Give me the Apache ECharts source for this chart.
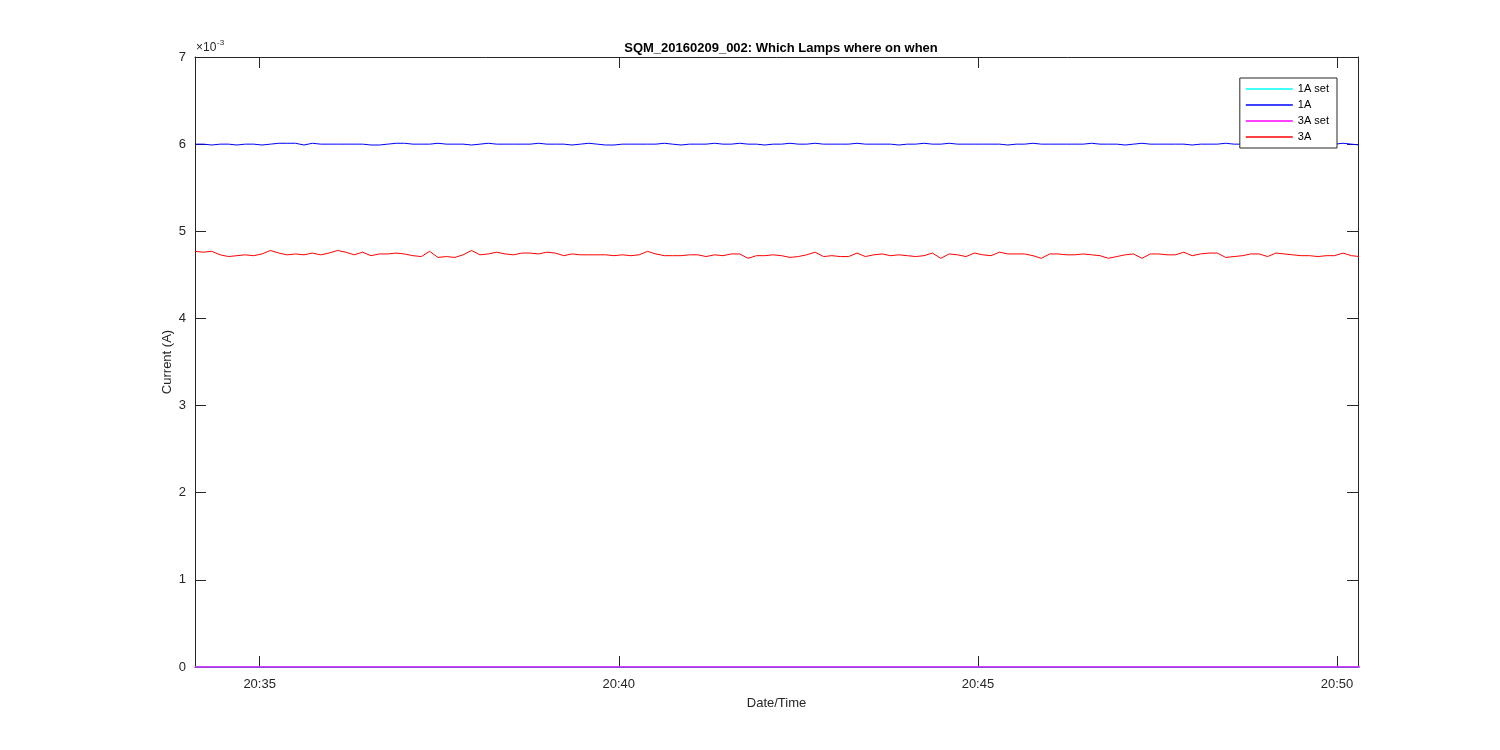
<!DOCTYPE html>
<html>
<head>
<meta charset="utf-8">
<script src="https://cdn.jsdelivr.net/npm/echarts@6/dist/echarts.min.js"></script>
<style>
html,body{margin:0;padding:0;background:#fff;}
#chart{width:1500px;height:750px;}
</style>
</head>
<body>
<div id="chart"></div>
<script>
// Sampling: seconds after 20:00:00
const sampleStartSec = 2046;   // 20:34:06
const sampleStepSec = 7;
const xMinSec = 2046;
const xMaxSec = 3017.5;
const xTickSec = [2100, 2400, 2700, 3000];
const yTicks = [0, 1, 2, 3, 4, 5, 6, 7];

// Values in units of 1e-3 A
const lamp1A = [
  6.00, 6.00, 5.99, 6.00, 6.00, 5.99, 6.00, 6.00, 5.99, 6.00,
  6.01, 6.01, 6.01, 5.99, 6.01, 6.00, 6.00, 6.00, 6.00, 6.00,
  6.00, 5.99, 5.99, 6.00, 6.01, 6.01, 6.00, 6.00, 6.00, 6.01,
  6.00, 6.00, 6.00, 5.99, 6.00, 6.01, 6.00, 6.00, 6.00, 6.00,
  6.00, 6.01, 6.00, 6.00, 6.00, 5.99, 6.00, 6.01, 6.00, 5.99,
  5.99, 6.00, 6.00, 6.00, 6.00, 6.00, 6.01, 6.00, 5.99, 6.00,
  6.00, 6.00, 6.01, 6.00, 6.00, 6.01, 6.00, 6.00, 5.99, 6.00,
  6.00, 6.01, 6.00, 6.00, 6.01, 6.00, 6.00, 6.00, 6.00, 6.01,
  6.00, 6.00, 6.00, 6.00, 5.99, 6.00, 6.00, 6.01, 6.00, 6.00,
  6.01, 6.00, 6.00, 6.00, 6.00, 6.00, 6.00, 5.99, 6.00, 6.00,
  6.01, 6.00, 6.00, 6.00, 6.00, 6.00, 6.00, 6.01, 6.00, 6.00,
  6.00, 5.99, 6.00, 6.01, 6.00, 6.00, 6.00, 6.00, 6.00, 5.99,
  6.00, 6.00, 6.00, 6.01, 6.00, 6.00, 6.00, 5.99, 6.00, 6.01,
  6.00, 6.00, 6.00, 6.00, 6.01, 6.00, 6.00, 6.01, 6.00, 5.99
];
const lamp3A = [
  4.77, 4.76, 4.77, 4.73, 4.71, 4.72, 4.73, 4.72, 4.74, 4.78,
  4.75, 4.73, 4.74, 4.73, 4.75, 4.73, 4.75, 4.78, 4.76, 4.73,
  4.76, 4.72, 4.74, 4.74, 4.75, 4.74, 4.72, 4.71, 4.77, 4.70,
  4.71, 4.70, 4.73, 4.78, 4.73, 4.74, 4.76, 4.74, 4.73, 4.75,
  4.75, 4.74, 4.76, 4.75, 4.72, 4.74, 4.73, 4.73, 4.73, 4.73,
  4.72, 4.73, 4.72, 4.73, 4.77, 4.74, 4.72, 4.72, 4.72, 4.73,
  4.73, 4.71, 4.73, 4.72, 4.74, 4.74, 4.69, 4.72, 4.72, 4.73,
  4.72, 4.70, 4.71, 4.73, 4.76, 4.71, 4.72, 4.71, 4.71, 4.75,
  4.71, 4.73, 4.74, 4.72, 4.73, 4.72, 4.71, 4.72, 4.75, 4.69,
  4.74, 4.73, 4.71, 4.75, 4.73, 4.72, 4.76, 4.74, 4.74, 4.74,
  4.72, 4.69, 4.74, 4.74, 4.73, 4.73, 4.74, 4.73, 4.72, 4.69,
  4.71, 4.73, 4.74, 4.69, 4.74, 4.74, 4.73, 4.73, 4.76, 4.72,
  4.74, 4.75, 4.75, 4.70, 4.71, 4.72, 4.74, 4.74, 4.71, 4.75,
  4.74, 4.73, 4.72, 4.72, 4.71, 4.72, 4.72, 4.75, 4.72, 4.71
];
const setSec = [2046, 3019];
const lamp1ASet = [0, 0];
const lamp3ASet = [0, 0];

const names = ['1A set', '1A', '3A set', '3A'];
const colors = ['#00ffff', '#0000ff', '#ff00ff', '#ff0000'];

function pairs(values) {
  return values.map((v, i) => [sampleStartSec + i * sampleStepSec, v]);
}
function setPairs(values) {
  return values.map((v, i) => [setSec[i], v]);
}
function fmtTime(v) {
  const h = 20 + Math.floor(v / 3600);
  const m = Math.floor((v % 3600) / 60);
  return h + ':' + (m < 10 ? '0' : '') + m;
}

const axisColor = '#262626';
const font = 'Liberation Sans, Arial, Helvetica, sans-serif';

const chart = echarts.init(document.getElementById('chart'), null, {renderer: 'canvas'});
const option = {
  animation: false,
  backgroundColor: '#ffffff',
  title: {
    text: 'SQM_20160209_002: Which Lamps where on when',
    left: 776, top: 37, textAlign: 'center',
    textStyle: {fontFamily: font, fontSize: 13, fontWeight: 'bold', color: '#000'}
  },
  grid: {left: 195, right: 142, top: 57, bottom: 83},
  legend: {
    data: names,
    orient: 'vertical',
    right: 163, top: 78,
    icon: 'rect',
    itemWidth: 47, itemHeight: 1.5,
    itemGap: 2,
    padding: [4, 8, 4, 6],
    borderColor: axisColor, borderWidth: 1,
    backgroundColor: '#fff',
    textStyle: {fontFamily: font, fontSize: 11, color: '#000', lineHeight: 14}
  },
  graphic: [
    {type: 'text', left: 196, top: 42, style: {text: '\u00d710', font: '12px ' + font, fill: axisColor}},
    {type: 'text', left: 217, top: 39, style: {text: '-3', font: '8px ' + font, fill: axisColor}},
    {type: 'text', x: 167, y: 362, rotation: Math.PI / 2,
     style: {text: 'Current (A)', font: '13px ' + font, fill: axisColor, align: 'center', verticalAlign: 'middle'}}
  ],
  xAxis: [
    {
      type: 'value', min: xMinSec, max: xMaxSec, position: 'bottom',
      name: 'Date/Time', nameLocation: 'middle', nameGap: 30,
      nameTextStyle: {fontFamily: font, fontSize: 13, color: axisColor},
      axisLine: {show: true, onZero: false, lineStyle: {color: axisColor, width: 1}},
      axisTick: {show: true, inside: true, length: 11, customValues: xTickSec, lineStyle: {color: axisColor}},
      axisLabel: {customValues: xTickSec, formatter: fmtTime, margin: 11, fontFamily: font, fontSize: 13, color: axisColor},
      splitLine: {show: false}
    },
    {
      type: 'value', min: xMinSec, max: xMaxSec, position: 'top',
      axisLine: {show: true, onZero: false, lineStyle: {color: axisColor, width: 1}},
      axisTick: {show: true, inside: true, length: 11, customValues: xTickSec, lineStyle: {color: axisColor}},
      axisLabel: {show: false},
      splitLine: {show: false}
    }
  ],
  yAxis: [
    {
      type: 'value', min: 0, max: 7, interval: 1, position: 'left',
      axisLine: {show: true, onZero: false, lineStyle: {color: axisColor, width: 1}},
      axisTick: {show: true, inside: true, length: 11, lineStyle: {color: axisColor}},
      axisLabel: {margin: 9, fontFamily: font, fontSize: 13, color: axisColor},
      splitLine: {show: false}
    },
    {
      type: 'value', min: 0, max: 7, interval: 1, position: 'right',
      axisLine: {show: true, onZero: false, lineStyle: {color: axisColor, width: 1}},
      axisTick: {show: true, inside: true, length: 11, lineStyle: {color: axisColor}},
      axisLabel: {show: false},
      splitLine: {show: false}
    }
  ],
  series: [
    {name: names[0], type: 'line', data: setPairs(lamp1ASet), showSymbol: false, symbol: 'none', color: colors[0], lineStyle: {width: 1.5, color: colors[0]}},
    {name: names[1], type: 'line', data: pairs(lamp1A), showSymbol: false, symbol: 'none', color: colors[1], lineStyle: {width: 1, color: colors[1]}},
    {name: names[2], type: 'line', data: setPairs(lamp3ASet), showSymbol: false, symbol: 'none', color: colors[2], lineStyle: {width: 1.5, color: colors[2]}},
    {name: names[3], type: 'line', data: pairs(lamp3A), showSymbol: false, symbol: 'none', color: colors[3], lineStyle: {width: 1, color: colors[3]}}
  ]
};
chart.setOption(option);
</script>
</body>
</html>
